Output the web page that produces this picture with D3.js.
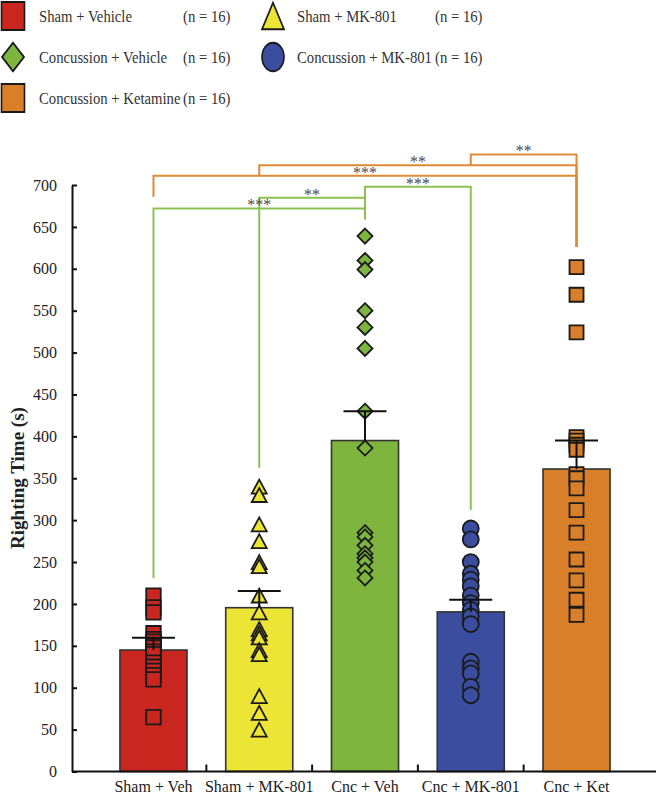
<!DOCTYPE html>
<html>
<head>
<meta charset="utf-8">
<script src="https://cdn.jsdelivr.net/npm/d3@7"></script>
<style>
  body { margin: 0; background: #fff; }
  svg { display: block; font-family: "Liberation Serif", "Times New Roman", serif; }
</style>
</head>
<body>
<svg id="chart" width="658" height="799"></svg>
<script>
"use strict";

// groups on the x axis
const groups = ["Sham + Veh", "Sham + MK-801", "Cnc + Veh", "Cnc + MK-801", "Cnc + Ket"];
const legendNames = ["Sham + Vehicle", "Sham + MK-801", "Concussion + Vehicle", "Concussion + MK-801", "Concussion + Ketamine"];
const legendN = [16, 16, 16, 16, 16];

// bar heights and SEM
const means = [145, 195.5, 395, 190.5, 361];
const sems = [14.5, 20, 35, 14.5, 34];

// individual animals (s)
const shamVeh = [210, 196, 190, 165, 158, 155, 150, 148, 143, 140, 130, 125, 120, 115, 110, 65];
const shamMK = [340, 330, 295, 275, 250, 245, 210, 190, 170, 165, 160, 145, 140, 90, 70, 50];
const cncVeh = [639, 610, 599, 550, 530, 505, 430, 386, 285, 280, 270, 260, 255, 250, 240, 231];
const cncMK = [290, 277, 250, 236, 229, 221, 210, 201, 193, 185, 176, 131, 123, 117, 101, 91];
const cncKet = [602, 569, 524, 399, 395, 390, 384, 355, 350, 338, 312, 285, 253, 228, 205, 187];
const points = [shamVeh, shamMK, cncVeh, cncMK, cncKet];

const yTickValues = [0, 50, 100, 150, 200, 250, 300, 350, 400, 450, 500, 550, 600, 650, 700];

// significance brackets: [group a, group b], level, leg ends
const sigPairs = [[3, 4], [1, 4], [0, 4], [2, 3], [1, 2], [0, 2]];
const sigLevels = [736.5, 723.7, 711, 698, 684.7, 672];
const sigLabels = ["**", "**", "***", "***", "**", "***"];
const sigLegEnds = [[723.7, 626], [711, 626], [686, 626], [659, 312], [362.5, 659], [231, 659]];

const fills = ["#c9261f", "#ece536", "#7db53f", "#3a4d9e", "#d97f2a"];
const shapes = ["square", "triangle", "diamond", "circle", "square"];

const svg = d3.select("#chart");

const x = d3.scaleBand()
  .domain(groups)
  .range([100.6, 629.4])
  .paddingInner(0.366)
  .paddingOuter(0.183);
const y = d3.scaleLinear().domain([0, 700]).range([771.5, 185]);
const cx = function(i) { return x(groups[i]) + x.bandwidth() / 2; };

function shapePath(kind, s) {
  // s = overall width in px
  if (kind == "square") return d3.symbol(d3.symbolSquare, s * s)();
  if (kind == "circle") return d3.symbol(d3.symbolCircle, Math.PI * s * s / 4)();
  if (kind == "diamond") {
    var h = s / 2;
    return "M0," + (-h) + "L" + h + ",0L0," + h + "L" + (-h) + ",0Z";
  }
  var hh = s * 0.93;
  return "M0," + (-hh / 2) + "L" + (s / 2) + "," + (hh / 2) + "L" + (-s / 2) + "," + (hh / 2) + "Z";
}

// bars
svg.append("g").selectAll("rect")
  .data(means)
  .enter()
  .append("rect")
  .attr("x", function(d, i) { return x(groups[i]); })
  .attr("y", function(d) { return y(d); })
  .attr("width", x.bandwidth())
  .attr("height", function(d) { return y(0) - y(d); })
  .attr("fill", function(d, i) { return fills[i]; })
  .attr("stroke", "#333333")
  .attr("stroke-width", 1.6);

// points
var sizes = [14.5, 15, 15, 16, 14];
points.forEach(function(arr, i) {
  svg.append("g").selectAll("path")
    .data(arr)
    .enter()
    .append("path")
    .attr("d", shapePath(shapes[i], sizes[i]))
    .attr("transform", function(d) { return "translate(" + cx(i) + "," + y(d) + ")"; })
    .attr("fill", fills[i])
    .attr("stroke", "#1a1a1a")
    .attr("stroke-width", 1.8);
});

// error bars
var err = svg.append("g").attr("stroke", "#111").attr("stroke-width", 2);
means.forEach(function(m, i) {
  err.append("line")
    .attr("x1", cx(i)).attr("x2", cx(i))
    .attr("y1", y(m)).attr("y2", y(m + sems[i]));
  err.append("line")
    .attr("x1", cx(i) - 21.5).attr("x2", cx(i) + 21.5)
    .attr("y1", y(m + sems[i])).attr("y2", y(m + sems[i]));
});

// y axis
var yAxis = svg.append("g")
  .attr("transform", "translate(72,0)")
  .call(d3.axisLeft(y).tickValues(yTickValues).tickSize(-5).tickPadding(15).tickSizeOuter(0));
yAxis.select(".domain").attr("stroke", "#111").attr("stroke-width", 2);
yAxis.selectAll(".tick line").attr("stroke", "#111").attr("stroke-width", 2);
yAxis.selectAll(".tick text")
  .attr("font-family", "Liberation Serif")
  .attr("font-size", 16)
  .attr("fill", "#222");

// x axis
var xa = svg.append("g");
xa.append("line")
  .attr("x1", 72).attr("x2", 656)
  .attr("y1", y(0)).attr("y2", y(0))
  .attr("stroke", "#111").attr("stroke-width", 2);
xa.selectAll(".xtick")
  .data(groups.slice(1))
  .enter()
  .append("line")
  .attr("class", "xtick")
  .attr("x1", function(d) { return x(d) - x.step() * x.paddingInner() / 2; })
  .attr("x2", function(d) { return x(d) - x.step() * x.paddingInner() / 2; })
  .attr("y1", y(0)).attr("y2", y(0) - 7)
  .attr("stroke", "#111").attr("stroke-width", 2);
xa.selectAll(".xlabel")
  .data(groups)
  .enter()
  .append("text")
  .attr("class", "xlabel")
  .attr("x", function(d) { return x(d) + x.bandwidth() / 2; })
  .attr("y", 792)
  .attr("text-anchor", "middle")
  .attr("font-size", 16)
  .attr("fill", "#222")
  .text(function(d) { return d; });

// y title
svg.append("text")
  .attr("transform", "translate(24,478) rotate(-90)")
  .attr("text-anchor", "middle")
  .attr("font-size", 19)
  .attr("font-weight", "bold")
  .attr("fill", "#222")
  .text("Righting Time (s)");

// significance brackets
var sig = svg.append("g").attr("fill", "none").attr("stroke-width", 2);
sigPairs.forEach(function(p, k) {
  var col = (p[1] == 4) ? "#e08a36" : "#8cc152";
  var x1 = cx(p[0]), x2 = cx(p[1]), ly = y(sigLevels[k]);
  sig.append("path")
    .attr("d", "M" + x1 + "," + y(sigLegEnds[k][0]) + "L" + x1 + "," + ly +
               "L" + x2 + "," + ly + "L" + x2 + "," + y(sigLegEnds[k][1]))
    .attr("stroke", col);
  svg.append("text")
    .attr("x", (x1 + x2) / 2)
    .attr("y", ly + 2)
    .attr("text-anchor", "middle")
    .attr("font-size", 16)
    .attr("fill", "#4a4a4a")
    .text(sigLabels[k]);
});

// legend
var colX = [0, 260];
var rowY = [16, 57, 98];
var legend = svg.append("g").attr("class", "legend");
legendNames.forEach(function(name, i) {
  var lx = colX[i % 2], ly = rowY[Math.floor(i / 2)];
  var g = legend.append("g").attr("transform", "translate(" + lx + "," + ly + ")");
  var lw = shapes[i] == "square" ? 23 : 22;
  g.append("path")
    .attr("d", shapePath(shapes[i], lw))
    .attr("transform", "translate(13,0) scale(1," + (shapes[i] == "square" ? 1.22 : 1.3) + ")")
    .attr("fill", fills[i])
    .attr("stroke", "#1a1a1a")
    .attr("stroke-width", 1.6);
  g.append("text")
    .attr("transform", "translate(" + (i % 2 ? 37 : 39) + ",6) scale(0.92,1)")
    .attr("font-size", 16)
    .attr("fill", "#333")
    .text(name);
  g.append("text")
    .attr("transform", "translate(" + (i % 2 ? 175 : 183) + ",6) scale(0.92,1)")
    .attr("font-size", 16)
    .attr("fill", "#333")
    .text("(n = " + legendN[i] + ")");
});
</script>
</body>
</html>
